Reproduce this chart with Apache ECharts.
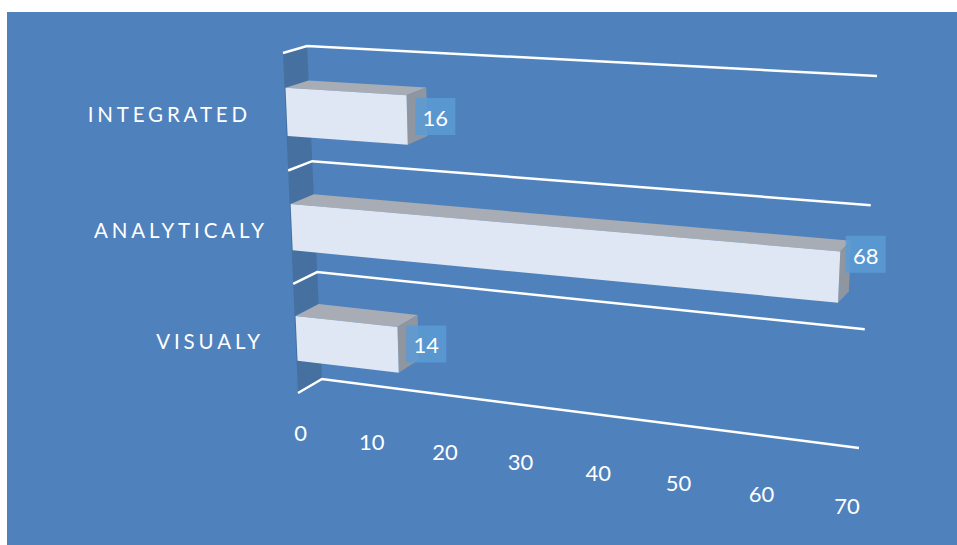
<!DOCTYPE html>
<html><head><meta charset="utf-8">
<style>
html,body{margin:0;padding:0;background:#fff}
#c{width:957px;height:545px}
#c svg text[style*="20.5px"]{letter-spacing:3.85px}
</style>
<script src="https://cdn.jsdelivr.net/npm/echarts@6/dist/echarts.min.js"></script>
</head><body><div id="c"></div>
<script>
const categories = ['VISUALY', 'ANALYTICALY', 'INTEGRATED'];
const values = [14, 68, 16];
const tickLabels = [0, 10, 20, 30, 40, 50, 60, 70];
const boundaries = [0, 1, 2, 3];

// view of the chart box: plane corners [top-left, top-right, bottom-left, bottom-right]
const frontPlane = [[283, 53], [866, 85], [298, 393], [848, 462]];
const backPlane = [[307, 46], [877, 76], [322, 379], [859, 448]];
const gridBox = {left: 100, top: 100, width: 700, height: 300};
const barHalf = 0.205;
const barFrontDepth = 0.04;
// label nudges, ordered as categories
const catLabelRight = [264, 268, 251];
const valueNudge = [[29, -6.5], [27, -23.5], [29, -4]];

function homography(q) {
  const [[x0, y0], [x1, y1], [x3, y3], [x2, y2]] = q;
  const dx1 = x1 - x2, dx2 = x3 - x2, sx = x0 - x1 + x2 - x3;
  const dy1 = y1 - y2, dy2 = y3 - y2, sy = y0 - y1 + y2 - y3;
  const den = dx1 * dy2 - dx2 * dy1;
  const g = (sx * dy2 - dx2 * sy) / den, h = (dx1 * sy - sx * dy1) / den;
  const a = x1 - x0 + g * x1, b = x3 - x0 + h * x3, c = x0;
  const d = y1 - y0 + g * y1, e = y3 - y0 + h * y3, f = y0;
  return (u, w) => {
    const z = g * u + h * w + 1;
    return [(a * u + b * w + c) / z, (d * u + e * w + f) / z];
  };
}
const front = homography(frontPlane), back = homography(backPlane);
// grid pixel -> chart unit square -> plane
const unit = p => [(p[0] - gridBox.left) / gridBox.width, (p[1] - gridBox.top) / gridBox.height];
const F = p => { const t = unit(p); return front(t[0], t[1]); };
const B = p => { const t = unit(p); return back(t[0], t[1]); };
const BF = p => { const a = F(p), b = B(p); return [a[0] + (b[0] - a[0]) * barFrontDepth, a[1] + (b[1] - a[1]) * barFrontDepth]; };
const poly = (points, fill, extra) => Object.assign({type: 'polygon', shape: {points}, style: {fill}, silent: true}, extra || {});

const font = '"Lato", sans-serif';
const option = {
  animation: false,
  backgroundColor: '#ffffff',
  graphic: [{type: 'rect', z: -10, shape: {x: 7, y: 12, width: 950, height: 533}, style: {fill: '#4F81BD'}}],
  grid: gridBox,
  xAxis: {type: 'value', min: 0, max: 70, interval: 10, show: false},
  yAxis: {type: 'category', data: categories, show: false},
  series: [
    { // side wall
      type: 'custom', coordinateSystem: 'cartesian2d', z: 2, data: [[0, 0]],
      encode: {x: 0, y: 1},
      renderItem(params, api) {
        const band = api.size([0, 1])[1];
        const x = api.coord([0, 0])[0];
        const yb = api.coord([0, 0])[1] + band / 2;
        const yt = yb - band * categories.length;
        return poly([F([x, yt]), B([x, yt]), B([x, yb]), F([x, yb])], '#45709F');
      }
    },
    { // gridlines on category boundaries
      type: 'custom', coordinateSystem: 'cartesian2d', z: 3, data: boundaries.map(b => [b]),
      renderItem(params, api) {
        const band = api.size([0, 1])[1];
        const b = api.value(0);
        const y = api.coord([0, 0])[1] + band / 2 - b * band;
        const x0 = api.coord([0, 0])[0], x1 = api.coord([70, 0])[0];
        return {
          type: 'polyline', silent: true,
          shape: {points: [F([x0, y]), B([x0, y]), B([x1, y])]},
          style: {stroke: '#ffffff', lineWidth: 2.5, fill: null}
        };
      }
    },
    { // box bars
      type: 'custom', coordinateSystem: 'cartesian2d', z: 4,
      data: values.map((v, i) => [v, i]), encode: {x: 0, y: 1},
      renderItem(params, api) {
        const band = api.size([0, 1])[1];
        const c = api.coord([0, api.value(1)]), e = api.coord([api.value(0), api.value(1)]);
        const yt = c[1] - band * barHalf, yb = c[1] + band * barHalf, x0 = c[0], x1 = e[0];
        return {type: 'group', children: [
          poly([BF([x0, yt]), BF([x1, yt]), B([x1, yt]), B([x0, yt])], '#A7ACB5'),
          poly([BF([x1, yt]), BF([x1, yb]), B([x1, yb]), B([x1, yt])], '#8F969F'),
          poly([BF([x0, yt]), BF([x1, yt]), BF([x1, yb]), BF([x0, yb])], '#DEE7F3')
        ]};
      }
    },
    { // value labels
      type: 'custom', coordinateSystem: 'cartesian2d', z: 5,
      data: values.map((v, i) => [v, i]), encode: {x: 0, y: 1},
      renderItem(params, api) {
        const i = api.value(1), v = api.value(0);
        const p = F(api.coord([v, i]));
        const n = valueNudge[i];
        const cx = p[0] + n[0], cy = p[1] + n[1];
        return {type: 'group', children: [
          {type: 'rect', silent: true, shape: {x: cx - 20, y: cy - 18.5, width: 40, height: 37},
            style: {fill: 'rgba(91,155,213,0.85)'}},
          {type: 'text', silent: true, x: cx, y: cy + 1,
            style: {text: String(v), fill: '#ffffff', font: '22px ' + font, align: 'center', verticalAlign: 'middle'}}
        ]};
      }
    },
    { // value-axis labels
      type: 'custom', coordinateSystem: 'cartesian2d', z: 5,
      data: tickLabels.map(t => [t]),
      renderItem(params, api) {
        const band = api.size([0, 1])[1];
        const t = api.value(0);
        const c = api.coord([t, 0]);
        const p = F([c[0], c[1] + band / 2 + band * 0.37]);
        return {type: 'text', silent: true, x: p[0] + 1, y: p[1],
          style: {text: String(t), fill: '#ffffff', font: '22px ' + font, align: 'center', verticalAlign: 'middle'}};
      }
    },
    { // category labels
      type: 'custom', coordinateSystem: 'cartesian2d', z: 5,
      data: categories.map((name, i) => [0, i]), encode: {x: 0, y: 1},
      renderItem(params, api) {
        const i = api.value(1);
        const p = F(api.coord([0, i]));
        return {type: 'text', silent: true, x: catLabelRight[i], y: p[1] + 2,
          style: {text: categories[i], fill: '#ffffff', font: '20.5px ' + font, align: 'right', verticalAlign: 'middle'}};
      }
    }
  ]
};
const chart = echarts.init(document.getElementById('c'), null, {renderer: 'svg', width: 957, height: 545});
chart.setOption(option);
</script></body></html>
